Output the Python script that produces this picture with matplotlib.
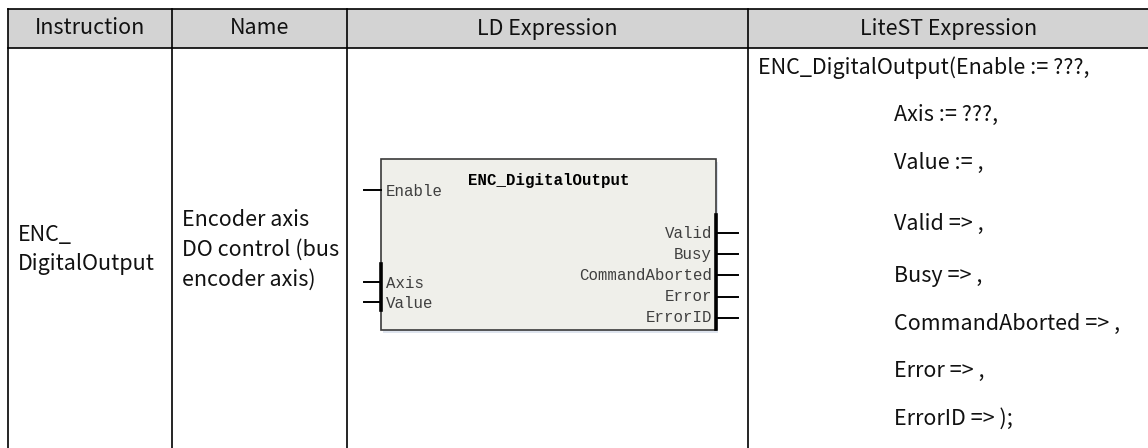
import matplotlib
matplotlib.use("Agg")
import matplotlib.pyplot as plt
from matplotlib.patches import Rectangle

plt.rcParams['font.family'] = ['Noto Sans CJK SC', 'DejaVu Sans']

# table content
headers = ["Instruction", "Name", "LD Expression", "LiteST Expression"]
instruction_lines = ["ENC_", "DigitalOutput"]
name_lines = ["Encoder axis", "DO control (bus", "encoder axis)"]
st_lines = ["ENC_DigitalOutput(Enable := ???,", "Axis := ???,", "Value := ,",
            "Valid => ,", "Busy => ,", "CommandAborted => ,", "Error => ,",
            "ErrorID => );"]

# function block
fb_name = "ENC_DigitalOutput"
fb_inputs_top = ["Enable"]
fb_inputs_bottom = ["Axis", "Value"]
fb_outputs = ["Valid", "Busy", "CommandAborted", "Error", "ErrorID"]

# layout (pixels)
W, H = 1148, 448
col_x = [8, 172, 347, 748, 1150]
top, head_bot, bottom = 9, 48, 476
st_y = [68, 115, 163, 224, 276, 324, 371, 419]

fig = plt.figure(figsize=(W / 100, H / 100), dpi=100)
ax = fig.add_axes([0, 0, 1, 1])
ax.set_xlim(0, W)
ax.set_ylim(H, 0)
ax.axis("off")

ax.add_patch(Rectangle((col_x[0], top), col_x[-1] - col_x[0], head_bot - top,
                       facecolor="#d3d3d3", edgecolor="none"))
lw = 1.2
for y in (top, head_bot):
    ax.plot([col_x[0], col_x[-1]], [y, y], color="black", lw=lw)
for x in col_x:
    ax.plot([x, x], [top, bottom], color="black", lw=lw)

fs = 15.5
txt = "#111111"
for i, h in enumerate(headers):
    ax.text((col_x[i] + col_x[i + 1]) / 2, (top + head_bot) / 2, h,
            ha="center", va="center", fontsize=fs, color=txt)

for i, t in enumerate(instruction_lines):
    ax.text(18, 235 + i * 29, t, ha="left", va="center", fontsize=fs, color=txt)
for i, t in enumerate(name_lines):
    ax.text(182, 220 + i * 30, t, ha="left", va="center", fontsize=fs, color=txt)

for i, t in enumerate(st_lines):
    x = 758 if i == 0 else 894
    ax.text(x, st_y[i], t, ha="left", va="center", fontsize=fs, color=txt)

# LD function block
bx0, by0, bx1, by1 = 381, 159, 716, 330
ax.add_patch(Rectangle((bx0 + 2, by0 + 3), bx1 - bx0, by1 - by0,
                       facecolor="#c9d3e3", edgecolor="none", alpha=0.6))
ax.add_patch(Rectangle((bx0, by0), bx1 - bx0, by1 - by0,
                       facecolor="#efefea", edgecolor="#3a3a3a", lw=1.2))
mono = "Liberation Mono"
pfs = 11.3
ax.text((bx0 + bx1) / 2, 180, fb_name, ha="center", va="center",
        fontsize=pfs, family=mono, weight="bold", color="black")

pin_col = "#3f3f3f"
ax.plot([364, bx0], [190, 190], color="black", lw=1.4)
ax.text(bx0 + 5, 192, fb_inputs_top[0], ha="left", va="center",
        fontsize=pfs, family=mono, color=pin_col)
ax.plot([bx0, bx0], [264, 310], color="black", lw=2.6)
for i, t in enumerate(fb_inputs_bottom):
    y = 282 + i * 20
    ax.plot([364, bx0], [y, y], color="black", lw=1.4)
    ax.text(bx0 + 5, y + 1, t, ha="left", va="center",
            fontsize=pfs, family=mono, color=pin_col)

ax.plot([bx1, bx1], [215, 329], color="black", lw=2.6)
for i, t in enumerate(fb_outputs):
    y = 233 + i * 21.2
    ax.plot([bx1, 738], [y, y], color="black", lw=1.4)
    ax.text(bx1 - 4, y, t, ha="right", va="center",
            fontsize=pfs, family=mono, color=pin_col)

fig.savefig("out.png", dpi=100)
